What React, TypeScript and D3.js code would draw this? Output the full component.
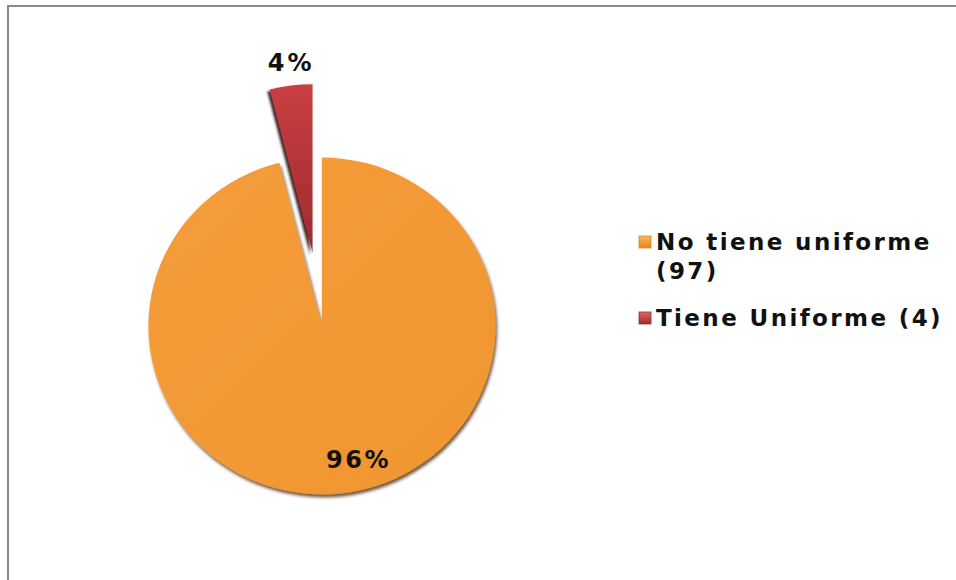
import React from "react";
import * as d3 from "d3";

const categories = ["No tiene uniforme", "Tiene Uniforme"];
const counts = [97, 4];
const percentLabels = ["96%", "4%"];
const legendLines = [["No tiene uniforme", "(97)"], ["Tiene Uniforme (4)"]];
const darkColors = ["#E08626", "#9A2A2C"];

const W = 956;
const H = 580;
const cx = 322;
const cy = 326;
const R = 171;
const explode = [0, 75];
const labelRadius = [134, 264];

export default function App() {
  const pie = d3.pie<number>().sort(null).value((d) => d);
  const arcs = pie(counts);
  const arc = d3.arc<d3.PieArcDatum<number>>().innerRadius(0).outerRadius(R);
  const mid = (a: d3.PieArcDatum<number>) => (a.startAngle + a.endAngle) / 2;
  const fontFamily = "'DejaVu Sans', Verdana, sans-serif";

  return (
    <svg width={W} height={H} style={{ position: "absolute", left: 0, top: 0 }}>
      <defs>
        <linearGradient id="g0" x1="0" y1="0" x2="1" y2="1">
          <stop offset="0" stopColor="#F59D3C" />
          <stop offset="1" stopColor="#F0952F" />
        </linearGradient>
        <linearGradient id="g1" x1="0" y1="0" x2="0" y2="1">
          <stop offset="0" stopColor="#C83F43" />
          <stop offset="1" stopColor="#9E2B2E" />
        </linearGradient>
        <linearGradient id="lg0" x1="0" y1="0" x2="0" y2="1">
          <stop offset="0" stopColor="#F7B95A" />
          <stop offset="1" stopColor="#E2841F" />
        </linearGradient>
        <linearGradient id="lg1" x1="0" y1="0" x2="0" y2="1">
          <stop offset="0" stopColor="#E0666A" />
          <stop offset="1" stopColor="#A02C30" />
        </linearGradient>
        <filter id="sh0" x="-20%" y="-20%" width="140%" height="140%">
          <feDropShadow dx="1.5" dy="3" stdDeviation="1.5" floodColor="#4a2400" floodOpacity="0.75" />
        </filter>
        <filter id="sh1" x="-50%" y="-20%" width="200%" height="140%">
          <feDropShadow dx="-2.5" dy="2" stdDeviation="1.2" floodColor="#200000" floodOpacity="0.85" />
        </filter>
      </defs>
      <rect x={8} y={6} width={W + 20} height={H + 20} fill="#fff" stroke="#8a8a8a" strokeWidth={2} />
      <g transform={`translate(${cx},${cy}) scale(1.015,0.985)`}>
        {arcs.map((a, i) => {
          const m = mid(a);
          const ox = Math.sin(m) * explode[i];
          const oy = -Math.cos(m) * explode[i];
          return (
            <path
              key={categories[i]}
              d={arc(a) || ""}
              transform={`translate(${ox},${oy})`}
              fill={`url(#g${i})`}
              filter={`url(#sh${i})`}
            />
          );
        })}
      </g>
      {arcs.map((a, i) => {
        const m = mid(a);
        const x = cx + Math.sin(m) * labelRadius[i];
        const y = cy - Math.cos(m) * labelRadius[i];
        return (
          <text
            key={"l" + i}
            x={x}
            y={y}
            dx={i === 0 ? 20 : 2}
            dy={i === 0 ? "0.36em" : "0.3em"}
            textAnchor="middle"
            fontFamily={fontFamily}
            fontWeight="bold"
            fontSize={24}
            letterSpacing={i === 0 ? 2.6 : 3}
            fill="#111"
          >
            {percentLabels[i]}
          </text>
        );
      })}
      {legendLines.map((lines, i) => {
        const top = i === 0 ? 236 : 312;
        return (
          <g key={"lg" + i}>
            <rect x={639} y={top} width={12} height={12} fill={`url(#lg${i})`} stroke={darkColors[i]} strokeWidth={0.8} />
            {lines.map((t, j) => (
              <text
                key={t}
                x={656}
                y={top + 6 + j * 29}
                dy="0.36em"
                fontFamily={fontFamily}
                fontWeight="bold"
                fontSize={23}
                letterSpacing={2.4}
                fill="#111"
              >
                {t}
              </text>
            ))}
          </g>
        );
      })}
    </svg>
  );
}
